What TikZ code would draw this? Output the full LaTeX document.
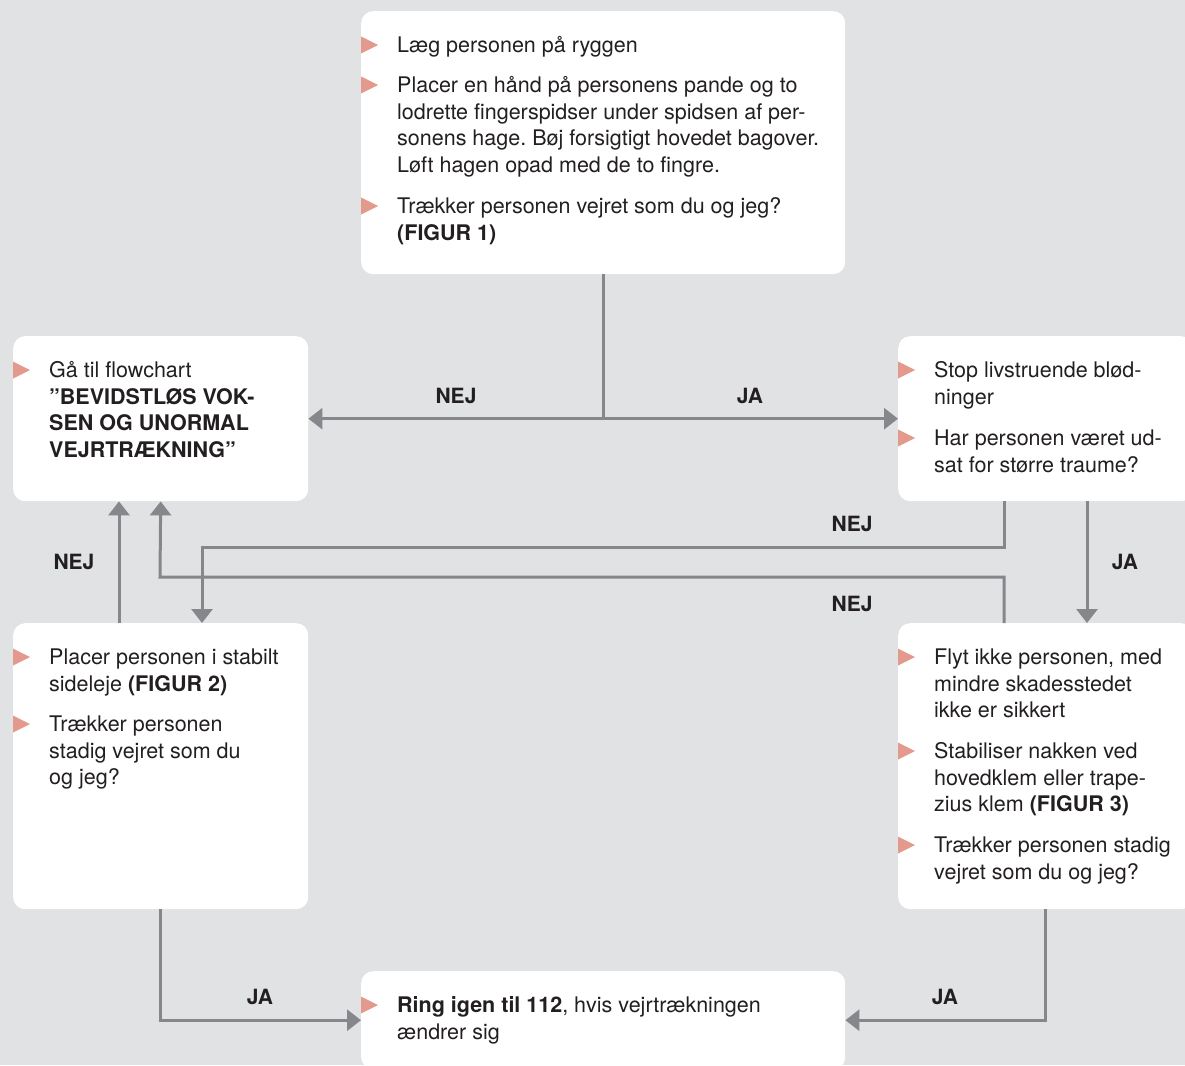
\documentclass[tikz,border=0pt]{standalone}
\usepackage{fontspec}
\setmainfont{TeX Gyre Heros}
\usepackage{tikz}
\usetikzlibrary{calc}
\usetikzlibrary{arrows.meta}
\usepackage{xcolor}
\frenchspacing

\definecolor{baggrund}{HTML}{E1E2E4}
\definecolor{linje}{HTML}{86878A}
\definecolor{laks}{HTML}{E39A8C}
\definecolor{tekst}{HTML}{231F20}

\tikzset{
    boks/.style={draw=none, fill=white, rounded corners=12pt, anchor=north west, inner sep=0pt},
    punkt/.style={anchor=north west, inner sep=0pt, align=left, text=tekst,
        font=\fontsize{21.5}{26.6}\selectfont},
    svar/.style={text=tekst, inner sep=0pt, font=\fontsize{21}{26}\selectfont\bfseries},
    pil/.style={draw=linje, line width=3pt, -{Triangle[width=21pt,length=14pt]}},
    streg/.style={draw=linje, line width=3pt}
}

\begin{document}
\begin{tikzpicture}[x=1pt, y=-1pt]
    % background and frame
    \clip (0,0) rectangle (1185,1065);
    \fill[baggrund] (0,0) rectangle (1185,1065);

    % the boxes
    \node[boks, minimum width=484pt, minimum height=263pt] (tjek)   at (361,11)  {};
    \node[boks, minimum width=295pt, minimum height=165pt] (flow)   at (13,336)  {};
    \node[boks, minimum width=295pt, minimum height=165pt] (blod)   at (898,336) {};
    \node[boks, minimum width=295pt, minimum height=286pt] (stabil) at (13,623)  {};
    \node[boks, minimum width=295pt, minimum height=286pt] (nakke)  at (898,623) {};
    \node[boks, minimum width=484pt, minimum height=98pt]  (ring)   at (361,971) {};

    % bullets
    \foreach \x/\y in {361/45, 361/85, 361/206, 13/370, 898/370, 898/438,
                       13/657, 13/724, 898/657, 898/751, 898/845, 361/1005} {
        \fill[laks] (\x,\y-8.5) -- (\x+17,\y) -- (\x,\y+8.5) -- cycle;
    }

    % texts of the top box
    \node[punkt] (t1) at (397,33.6) {\strut Læg personen på ryggen};
    \node[punkt] (t2) at (397,73.6) {\strut Placer en hånd på personens pande og to\\
        lodrette fingerspidser under spidsen af per-\\
        sonens hage. Bøj forsigtigt hovedet bagover.\\
        Løft hagen opad med de to fingre.};
    \node[punkt] (t3) at (397,194.6) {\strut Trækker personen vejret som du og jeg?\\
        \textbf{(FIGUR 1)}};

    % texts of the middle boxes
    \node[punkt] (f1) at (49,358.6) {\strut Gå til flowchart\\
        \textbf{”BEVIDSTLØS VOK-}\\
        \textbf{SEN OG UNORMAL}\\
        \textbf{VEJRTRÆKNING”}};
    \node[punkt] (b1) at (934,358.6) {\strut Stop livstruende blød-\\ninger};
    \node[punkt] (b2) at (934,426.6) {\strut Har personen været ud-\\sat for større traume?};

    % texts of the lower boxes
    \node[punkt] (s1) at (49,645.6) {\strut Placer personen i stabilt\\
        sideleje \textbf{(FIGUR 2)}};
    \node[punkt] (s2) at (49,712.6) {\strut Trækker personen\\stadig vejret som du\\og jeg?};
    \node[punkt] (n1) at (934,645.6) {\strut Flyt ikke personen, med\\
        mindre skadesstedet\\ikke er sikkert};
    \node[punkt] (n2) at (934,739.6) {\strut Stabiliser nakken ved\\
        hovedklem eller trape-\\zius klem \textbf{(FIGUR 3)}};
    \node[punkt] (n3) at (934,833.6) {\strut Trækker personen stadig\\vejret som du og jeg?};

    % text of the bottom box
    \node[punkt] (r1) at (397,993.6) {\strut \textbf{Ring igen til 112}, hvis vejrtrækningen\\
        ændrer sig};

    % connectors
    \draw[pil] (tjek.south) |- (flow.east);
    \draw[pil] (tjek.south) |- (blod.west);
    \draw[pil] ($(blod.south west)+(106,0)$) |- (202,547) -- ($(stabil.north west)+(189,0)$);
    \draw[pil] ($(blod.south west)+(189,0)$) -- ($(nakke.north west)+(189,0)$);
    \draw[pil] ($(nakke.north west)+(106,0)$) |- (160,577) -- (flow.south);
    \draw[pil] ($(stabil.north west)+(106,0)$) -- ($(flow.south west)+(106,0)$);
    \draw[pil] (stabil.south) |- (ring.west);
    \draw[pil] (nakke.south) |- (ring.east);

    % answers
    \node[svar] (a1) at (456,396) {NEJ};
    \node[svar] (a2) at (750,396) {JA};
    \node[svar] (a3) at (852,524) {NEJ};
    \node[svar] (a4) at (1125,562) {JA};
    \node[svar] (a5) at (852,604) {NEJ};
    \node[svar] (a6) at (74,562) {NEJ};
    \node[svar] (a7) at (260,997) {JA};
    \node[svar] (a8) at (945,997) {JA};
\end{tikzpicture}
\end{document}
